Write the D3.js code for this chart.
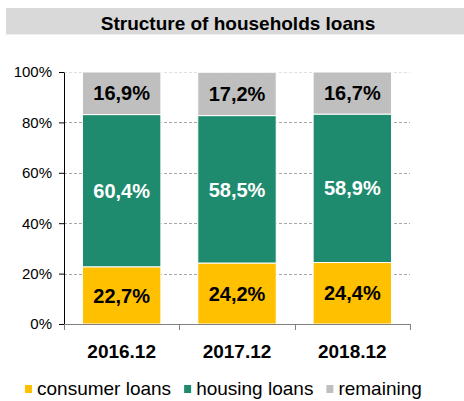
<!DOCTYPE html>
<html>
<head>
<meta charset="utf-8">
<script src="https://cdn.jsdelivr.net/npm/d3@7"></script>
<style>
  body { margin: 0; background: #fff; }
  text { font-family: "Liberation Sans", Arial, sans-serif; }
</style>
</head>
<body>
<div id="output"></div>
<script>
const width = 464;
const height = 401;

// data
const categories = ['2016.12', '2017.12', '2018.12'];
const seriesNames = ['consumer loans', 'housing loans', 'remaining'];
const consumerLoans = [22.7, 24.2, 24.4];
const housingLoans = [60.4, 58.5, 58.9];
const remaining = [16.9, 17.2, 16.7];
const yTicks = [0, 20, 40, 60, 80, 100];

const colors = ['#FFC000', '#1F8B6E', '#BFBFBF'];
const labelColors = ['#000', '#fff', '#000'];

const svg = d3.select('#output').append('svg')
    .attr('width', width)
    .attr('height', height);

// title bar
svg.append('rect')
    .attr('x', 6).attr('y', 8)
    .attr('width', width - 6).attr('height', 26)
    .attr('fill', '#D9D9D9');
svg.append('line')
    .attr('x1', 6).attr('x2', width)
    .attr('y1', 34.5).attr('y2', 34.5)
    .attr('stroke', '#EEEEEE')
    .attr('stroke-width', 1);
svg.append('text')
    .attr('x', 238).attr('y', 30)
    .attr('text-anchor', 'middle')
    .attr('font-weight', 'bold')
    .attr('font-size', 19)
    .text('Structure of households loans');

const plot = {left: 64, right: 410, top: 72, bottom: 324};

const x = d3.scaleBand()
    .domain(categories)
    .range([plot.left, plot.right])
    .paddingInner(0.32)
    .paddingOuter(0.16);

const y = d3.scaleLinear()
    .domain([0, 100])
    .range([plot.bottom, plot.top]);

// gridlines
svg.append('g').attr('id', 'grid')
    .selectAll('line')
    .data(yTicks.filter(d => d > 0))
    .enter().append('line')
    .attr('x1', plot.left).attr('x2', plot.right)
    .attr('y1', d => Math.round(y(d)) + 0.5)
    .attr('y2', d => Math.round(y(d)) + 0.5)
    .attr('stroke', d => d === 100 ? '#E0E0E0' : '#A6A6A6')
    .attr('stroke-dasharray', '3,2')
    .attr('stroke-width', 1);

// stacked bars
const rows = categories.map((c, i) => ({
    cat: c,
    values: [consumerLoans[i], housingLoans[i], remaining[i]]
}));
const segments = [];
rows.forEach(r => {
    let acc = 0;
    r.values.forEach((v, k) => {
        segments.push({cat: r.cat, k: k, v: v, y0: acc, y1: acc + v});
        acc += v;
    });
});

const bars = svg.append('g').attr('id', 'bars');
bars.selectAll('rect')
    .data(segments)
    .enter().append('rect')
    .attr('x', d => x(d.cat))
    .attr('width', x.bandwidth())
    .attr('y', d => y(d.y1))
    .attr('height', d => y(d.y0) - y(d.y1))
    .attr('fill', d => colors[d.k])
    .attr('stroke', '#fff')
    .attr('stroke-width', 1);

bars.selectAll('text')
    .data(segments)
    .enter().append('text')
    .attr('x', d => x(d.cat) + x.bandwidth() / 2)
    .attr('y', d => (y(d.y0) + y(d.y1)) / 2)
    .attr('dy', '0.36em')
    .attr('text-anchor', 'middle')
    .attr('font-weight', 'bold')
    .attr('font-size', 20)
    .attr('fill', d => labelColors[d.k])
    .text(d => d.v.toFixed(1).replace('.', ',') + '%');

// y axis
const yAxis = svg.append('g')
    .attr('transform', 'translate(' + plot.left + ',0)')
    .call(d3.axisLeft(y).tickValues(yTicks).tickSize(5).tickSizeOuter(0)
        .tickFormat(d => d + '%'));
yAxis.select('.domain').attr('stroke', '#000');
yAxis.selectAll('.tick line').attr('stroke', '#000');
yAxis.selectAll('.tick text')
    .attr('font-family', '"Liberation Sans", Arial, sans-serif')
    .attr('font-size', 15)
    .attr('fill', '#000')
    .attr('x', -12);

// x axis line with ticks at band boundaries
const step = x.step();
const xAxis = svg.append('g').attr('id', 'xaxis');
xAxis.append('line')
    .attr('x1', plot.left).attr('x2', plot.right)
    .attr('y1', plot.bottom + 0.5).attr('y2', plot.bottom + 0.5)
    .attr('stroke', '#808080');
xAxis.selectAll('line.tick')
    .data(d3.range(categories.length + 1))
    .enter().append('line')
    .attr('class', 'tick')
    .attr('x1', i => Math.round(plot.left + i * step) + 0.5)
    .attr('x2', i => Math.round(plot.left + i * step) + 0.5)
    .attr('y1', plot.bottom).attr('y2', plot.bottom + 6)
    .attr('stroke', '#808080');
xAxis.selectAll('text')
    .data(categories)
    .enter().append('text')
    .attr('x', d => x(d) + x.bandwidth() / 2)
    .attr('y', 358)
    .attr('text-anchor', 'middle')
    .attr('font-weight', 'bold')
    .attr('font-size', 19)
    .text(d => d);

// legend
const legend = svg.append('g').attr('id', 'legend');
let lx = 25;
seriesNames.forEach((name, k) => {
    legend.append('rect')
        .attr('x', lx).attr('y', 385)
        .attr('width', 7).attr('height', 8)
        .attr('fill', colors[k]);
    const t = legend.append('text')
        .attr('x', lx + 12).attr('y', 395)
        .attr('font-size', 19)
        .attr('fill', '#000')
        .text(name);
    lx += 12 + t.node().getComputedTextLength() + 13;
});
</script>
</body>
</html>
